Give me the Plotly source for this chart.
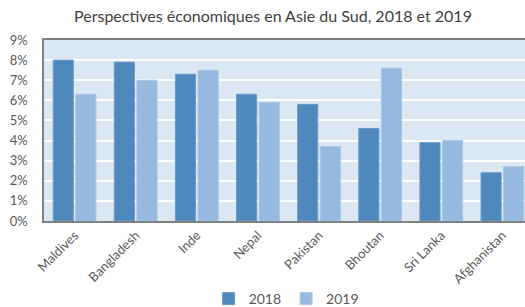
import plotly.graph_objects as go

countries = ["Maldives", "Bangladesh", "Inde", "Nepal", "Pakistan", "Bhoutan", "Sri Lanka", "Afghanistan"]
v2018 = [8.0, 7.9, 7.3, 6.3, 5.8, 4.6, 3.9, 2.4]
v2019 = [6.3, 7.0, 7.5, 5.9, 3.7, 7.6, 4.0, 2.7]
yticks = [0, 1, 2, 3, 4, 5, 6, 7, 8, 9]
ytick_labels = [f"{t}%" for t in yticks]

font = "Lato, Open Sans, sans-serif"

fig = go.Figure()
fig.add_trace(go.Bar(x=countries, y=v2018, name="2018",
                     marker=dict(color="#4F88BC", line=dict(color="#6A9BCB", width=1))))
fig.add_trace(go.Bar(x=countries, y=v2019, name="2019",
                     marker=dict(color="#96B9E0", line=dict(color="#A9C6E6", width=1))))

fig.update_layout(
    width=525, height=307,
    margin=dict(l=44, r=0, t=40, b=86),
    paper_bgcolor="white",
    plot_bgcolor="#DCE7F4",
    barmode="group",
    bargap=0.26,
    bargroupgap=0.11,
    font=dict(family=font, color="#595959", size=13),
    title=dict(text="Perspectives économiques en Asie du Sud, 2018 et 2019",
               x=0.52, xanchor="center", y=0.948, yanchor="middle",
               font=dict(family=font, size=16, color="#404040")),
    legend=dict(orientation="h", x=0.545, xanchor="center", xref="container",
                y=0.026, yanchor="middle", yref="container",
                font=dict(size=14, color="#595959"), itemwidth=30, traceorder="normal",
                tracegroupgap=0),
    showlegend=True,
)
fig.update_xaxes(range=[-0.5, 7.37], tickangle=-45, showline=True, linecolor="#808080",
                 linewidth=1.5, mirror=True, ticks="", automargin=False,
                 tickfont=dict(size=13, color="#595959"))
fig.update_yaxes(range=[0, 9], tickvals=yticks, ticktext=ytick_labels, showgrid=True,
                 gridcolor="white", gridwidth=1.5, showline=True, linecolor="#808080",
                 linewidth=1.5, zeroline=False, ticks="", automargin=False,
                 ticklabelstandoff=12,
                 tickfont=dict(size=13, color="#595959"))

fig.write_html("out.html", config={"displayModeBar": False},
               post_script="document.body.style.margin='0';document.body.style.overflow='hidden';")
